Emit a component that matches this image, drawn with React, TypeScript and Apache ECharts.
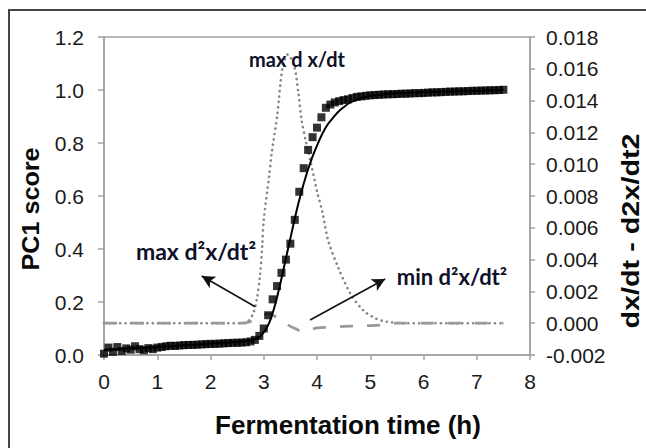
import React, { useEffect, useRef } from "react";
import * as echarts from "echarts";

// PC1 score measurements (every 5 min)
const times = [
  0.0, 0.083, 0.167, 0.25, 0.333, 0.417, 0.5, 0.583, 0.667, 0.75, 0.833, 0.917,
  1.0, 1.083, 1.167, 1.25, 1.333, 1.417, 1.5, 1.583, 1.667, 1.75, 1.833, 1.917,
  2.0, 2.083, 2.167, 2.25, 2.333, 2.417, 2.5, 2.583, 2.667, 2.75, 2.833, 2.917,
  3.0, 3.083, 3.167, 3.25, 3.333, 3.417, 3.5, 3.583, 3.667, 3.75, 3.833, 3.917,
  4.0, 4.083, 4.167, 4.25, 4.333, 4.417, 4.5, 4.583, 4.667, 4.75, 4.833, 4.917,
  5.0, 5.083, 5.167, 5.25, 5.333, 5.417, 5.5, 5.583, 5.667, 5.75, 5.833, 5.917,
  6.0, 6.083, 6.167, 6.25, 6.333, 6.417, 6.5, 6.583, 6.667, 6.75, 6.833, 6.917,
  7.0, 7.083, 7.167, 7.25, 7.333, 7.417, 7.5,
];
const pc1Score = [
  0.005, 0.028, 0.012, 0.03, 0.015, 0.025, 0.02, 0.033, 0.022, 0.018, 0.026, 0.022,
  0.028, 0.03, 0.033, 0.035, 0.034, 0.036, 0.037, 0.038, 0.038, 0.039, 0.04, 0.041,
  0.042, 0.042, 0.043, 0.044, 0.045, 0.046, 0.046, 0.047, 0.048, 0.051, 0.057, 0.072,
  0.1, 0.15, 0.21, 0.26, 0.31, 0.36, 0.42, 0.51, 0.616, 0.705, 0.774, 0.822,
  0.858, 0.897, 0.933, 0.945, 0.953, 0.958, 0.962, 0.965, 0.97, 0.974, 0.976, 0.978,
  0.98, 0.981, 0.982, 0.983, 0.984, 0.984, 0.985, 0.986, 0.986, 0.987, 0.988, 0.988,
  0.989, 0.99, 0.991, 0.991, 0.992, 0.993, 0.994, 0.994, 0.995, 0.995, 0.996, 0.997,
  0.997, 0.998, 0.998, 0.999, 0.999, 1.0, 1.001,
];

// Fitted model curve
const fitTimes = [
  0, 0.5, 1, 1.5, 2, 2.5, 2.75, 2.9, 3.0, 3.1, 3.2, 3.3, 3.4, 3.5, 3.6, 3.7, 3.8,
  3.9, 4.0, 4.1, 4.2, 4.3, 4.4, 4.5, 4.6, 4.7, 4.8, 5.0, 5.5, 6.0, 7.0, 7.5,
];
const fitScore = [
  0.02, 0.025, 0.03, 0.037, 0.043, 0.05, 0.055, 0.065, 0.085, 0.12, 0.18, 0.26, 0.35,
  0.44, 0.53, 0.61, 0.68, 0.74, 0.79, 0.835, 0.87, 0.895, 0.918, 0.935, 0.95, 0.96,
  0.968, 0.978, 0.988, 0.992, 0.997, 1.0,
];

// First derivative dx/dt (right axis)
const dxTimes = [
  0, 1, 2, 2.6, 2.7, 2.8, 2.87, 2.93, 2.97, 3.0, 3.1, 3.15, 3.25, 3.35, 3.45, 3.57,
  3.65, 3.71, 3.8, 3.87, 4.0, 4.1, 4.21, 4.4, 4.62, 4.87, 5.1, 5.3, 5.6, 6.5, 7.5,
];
const dxdt = [
  0, 0, 0, 0, 0.0001, 0.0006, 0.0015, 0.003, 0.0048, 0.0065, 0.0092, 0.0107, 0.013,
  0.016, 0.0169, 0.0162, 0.0145, 0.0128, 0.0113, 0.0103, 0.0083, 0.007, 0.0052,
  0.0035, 0.0019, 0.0008, 0.0003, 0.0001, 0, 0, 0,
];

// Second derivative d2x/dt2 (right axis)
const d2Times = [
  0, 1, 2, 2.6, 2.75, 2.9, 3.0, 3.1, 3.2, 3.3, 3.4, 3.5, 3.6, 3.7, 3.8, 3.9, 4.0,
  4.25, 4.5, 4.75, 5.0, 5.25, 5.5, 6.0, 7.0, 7.5,
];
const d2xdt2 = [
  0, 0, 0, 0, 0.0001, 0.0003, 0.0005, 0.0006, 0.00045, 0.0002, 0.0, -0.0002,
  -0.00035, -0.0005, -0.0005, -0.0004, -0.0003, -0.00025, -0.0002, -0.00018,
  -0.00015, -0.0001, 0, 0, 0, 0,
];

// Annotation arrows [fromT, fromY, toT, toY] on the PC1 axis
const arrowMaxD2 = [2.84, 0.182, 1.835, 0.298];
const arrowMinD2 = [3.87, 0.132, 5.28, 0.287];

const labelFont = "'Liberation Sans', Arial, sans-serif";
const noteFont = "Lato, 'Open Sans', sans-serif";

export default function App() {
  const ref = useRef<HTMLDivElement>(null);

  useEffect(() => {
    document.body.style.margin = "0";
    if (!ref.current) return;
    const chart = echarts.init(ref.current, undefined, { renderer: "svg" });

    const pair = (xs: number[], ys: number[]) => xs.map((t, i) => [t, ys[i]]);

    chart.setOption({
      animation: false,
      backgroundColor: "#ffffff",
      grid: {
        left: 104,
        right: 116,
        top: 37,
        bottom: 93,
        show: true,
        borderColor: "#a0a0a0",
        borderWidth: 1.5,
      },
      xAxis: {
        type: "value",
        min: 0,
        max: 8,
        interval: 1,
        axisLine: { show: true, lineStyle: { color: "#a0a0a0", width: 1.5 } },
        axisTick: { show: true, length: 5, lineStyle: { color: "#a0a0a0", width: 1.5 } },
        splitLine: { show: false },
        axisLabel: {
          margin: 16,
          fontFamily: labelFont,
          fontSize: 21,
          color: "#1a1a1a",
        },
      },
      yAxis: [
        {
          type: "value",
          min: 0,
          max: 1.2,
          interval: 0.2,
          axisLine: { show: true, lineStyle: { color: "#a0a0a0", width: 1.5 } },
          axisTick: { show: true, length: 6, lineStyle: { color: "#a0a0a0", width: 1.5 } },
          splitLine: { show: false },
          axisLabel: {
            margin: 20,
            fontFamily: labelFont,
            fontSize: 21,
            color: "#1a1a1a",
            formatter: (v: number) => v.toFixed(1),
          },
        },
        {
          type: "value",
          position: "right",
          min: -0.002,
          max: 0.018,
          interval: 0.002,
          axisLine: { show: true, lineStyle: { color: "#a0a0a0", width: 1.5 } },
          axisTick: { show: true, length: 5, lineStyle: { color: "#a0a0a0", width: 1.5 } },
          splitLine: { show: false },
          axisLabel: {
            margin: 16,
            fontFamily: labelFont,
            fontSize: 21,
            color: "#1a1a1a",
            formatter: (v: number) => (Math.abs(v) < 1e-9 ? "0.000" : v.toFixed(3)),
          },
        },
      ],
      series: [
        {
          name: "dx/dt",
          type: "line",
          yAxisIndex: 1,
          data: pair(dxTimes, dxdt),
          smooth: 0.3,
          showSymbol: false,
          lineStyle: { color: "#858585", width: 2.6, type: [0.1, 5.3], cap: "round" },
          z: 2,
        },
        {
          name: "d2x/dt2",
          type: "line",
          yAxisIndex: 1,
          data: pair(d2Times, d2xdt2),
          smooth: 0.3,
          showSymbol: false,
          lineStyle: { color: "#999999", width: 2.8, type: [13, 14] },
          z: 2,
        },
        {
          name: "PC1",
          type: "scatter",
          yAxisIndex: 0,
          data: pair(times, pc1Score),
          symbol: "rect",
          symbolSize: 8,
          itemStyle: { color: "#000000" },
          z: 3,
        },
        {
          name: "fit",
          type: "line",
          yAxisIndex: 0,
          data: pair(fitTimes, fitScore),
          smooth: 0.3,
          showSymbol: false,
          lineStyle: { color: "#000000", width: 2 },
          z: 4,
          markLine: {
            silent: true,
            symbol: ["none", "arrow"],
            symbolSize: [10, 13],
            label: { show: false },
            lineStyle: { color: "#111111", width: 1.6, type: "solid" },
            data: [
              [
                { coord: [arrowMaxD2[0], arrowMaxD2[1]] },
                { coord: [arrowMaxD2[2], arrowMaxD2[3]] },
              ],
              [
                { coord: [arrowMinD2[0], arrowMinD2[1]] },
                { coord: [arrowMinD2[2], arrowMinD2[3]] },
              ],
            ],
          },
        },
      ],
      graphic: [
        {
          type: "rect",
          shape: { x: 9, y: 10, width: 700, height: 500 },
          style: { fill: "none", stroke: "#444444", lineWidth: 2 },
          silent: true,
        },
        {
          type: "text",
          x: 297,
          y: 59,
          style: {
            text: "max d x/dt",
            font: `bold 20px ${noteFont}`,
            fill: "#10102a",
            align: "center",
            verticalAlign: "middle",
          },
          z: 10,
        },
        {
          type: "text",
          x: 196,
          y: 251,
          style: {
            text: "max d²x/dt²",
            font: `bold 23px ${noteFont}`,
            fill: "#10102a",
            align: "center",
            verticalAlign: "middle",
          },
          z: 10,
        },
        {
          type: "text",
          x: 452,
          y: 276,
          style: {
            text: "min d²x/dt²",
            font: `bold 22px ${noteFont}`,
            fill: "#10102a",
            align: "center",
            verticalAlign: "middle",
          },
          z: 10,
        },
        {
          type: "text",
          x: 348,
          y: 425,
          style: {
            text: "Fermentation time (h)",
            font: `bold 26px ${labelFont}`,
            fill: "#0a0a0a",
            align: "center",
            verticalAlign: "middle",
          },
        },
        {
          type: "text",
          x: 31,
          y: 209,
          rotation: Math.PI / 2,
          scaleX: 1.05,
          style: {
            text: "PC1 score",
            font: `bold 24px ${labelFont}`,
            fill: "#0a0a0a",
            align: "center",
            verticalAlign: "middle",
          },
        },
        {
          type: "text",
          x: 631,
          y: 231,
          rotation: Math.PI / 2,
          scaleX: 1.2,
          style: {
            text: "dx/dt - d2x/dt2",
            font: `bold 24px ${labelFont}`,
            fill: "#0a0a0a",
            align: "center",
            verticalAlign: "middle",
          },
        },
      ],
    });

    return () => chart.dispose();
  }, []);

  return <div ref={ref} style={{ width: 646, height: 448 }} />;
}
